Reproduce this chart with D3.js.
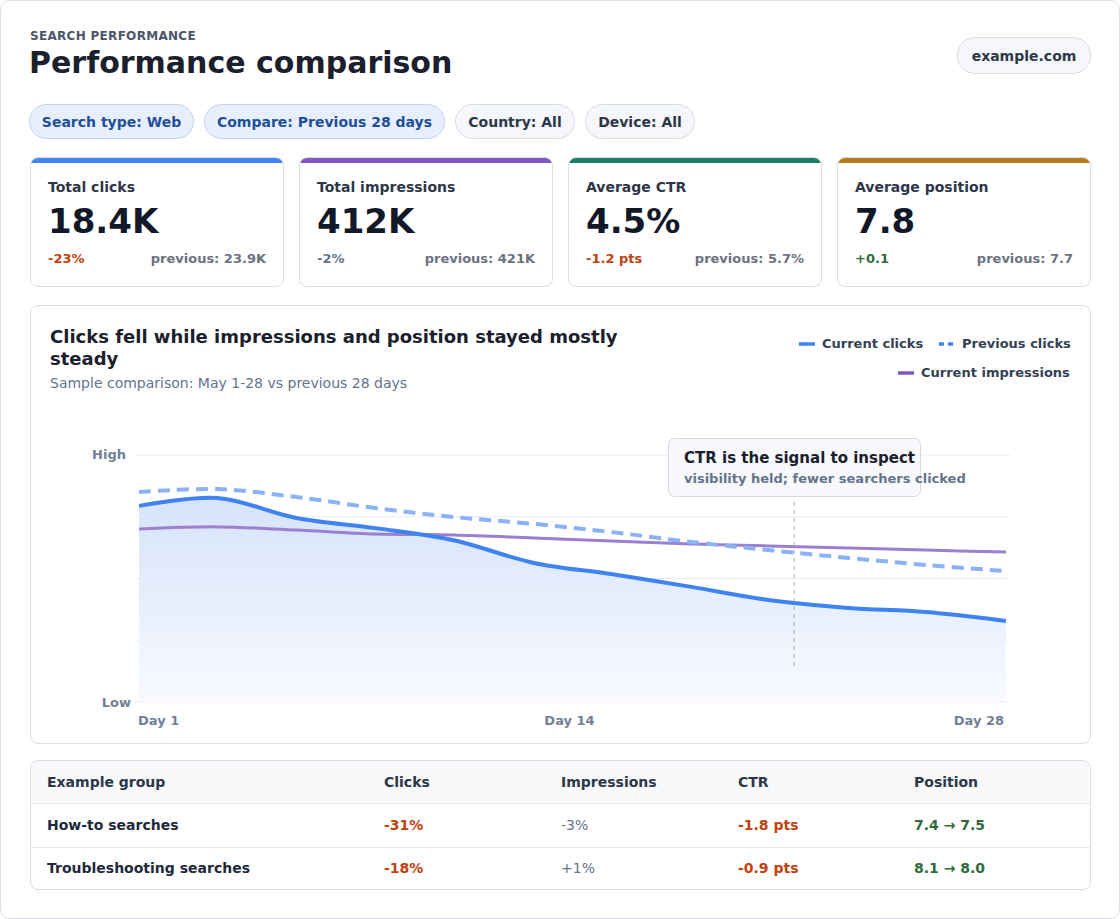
<!DOCTYPE html>
<html><head><meta charset="utf-8">
<script src="https://cdn.jsdelivr.net/npm/d3@7"></script>
<style>
*{box-sizing:border-box}
body{margin:0;width:1120px;height:919px;font-family:"DejaVu Sans",sans-serif;background:#fff;color:#1a202c}
.page{position:absolute;left:0;top:0;width:1120px;height:919px;border:1px solid #d9dee6;border-radius:10px}
.abs{position:absolute}
.pill{position:absolute;height:35px;border-radius:18px;font-size:14px;font-weight:bold;display:flex;align-items:center;justify-content:center;border:1px solid #d7dde6;background:#f5f7fa;color:#2d3748}
.pill.blue{background:#e7effc;border-color:#bfd3f3;color:#1f4f9a}
.card{position:absolute;top:157px;width:254px;height:130px;border:1px solid #d9dee6;border-radius:8px;overflow:hidden}
.card .bar{position:absolute;left:0;top:0;right:0;height:5px}
.card .lab{position:absolute;left:17px;top:21px;font-size:14px;font-weight:bold;color:#2d3748}
.card .val{position:absolute;left:17px;top:43px;font-size:34px;font-weight:bold;color:#111827}
.card .d{position:absolute;left:17px;top:93px;font-size:13px;font-weight:bold}
.card .p{position:absolute;right:17px;top:93px;font-size:13px;font-weight:bold;color:#6b7280}
.red{color:#c2410c}.grn{color:#2f6b3a}.gry{color:#64748b}
</style></head><body>
<div class="page"></div>
<div class="abs" style="left:30px;top:29px;font-size:12px;font-weight:bold;color:#4a5568;letter-spacing:0.3px">SEARCH PERFORMANCE</div>
<div class="abs" style="left:29px;top:45px;font-size:30px;font-weight:bold;color:#1a202c">Performance comparison</div>
<div class="pill" style="left:957px;top:37px;width:134px;height:37px">example.com</div>
<div id="pills"></div>
<div id="cards"></div>
<div class="abs" style="left:30px;top:305px;width:1061px;height:439px;border:1px solid #d9dee6;border-radius:8px"></div>
<div class="abs" style="left:50px;top:326px;font-size:18px;font-weight:bold;line-height:22px;color:#1a202c;width:600px">Clicks fell while impressions and position stayed mostly steady</div>
<div class="abs" style="left:50px;top:375px;font-size:14px;color:#64748b">Sample comparison: May 1-28 vs previous 28 days</div>
<svg id="chart" class="abs" style="left:0;top:0" width="1120" height="919"></svg>
<div id="table" class="abs" style="left:30px;top:760px;width:1061px;height:130px;border:1px solid #d9dee6;border-radius:8px;overflow:hidden"></div>
<script>
const pills=[["Search type: Web",29,165,true],["Compare: Previous 28 days",204,241,true],["Country: All",455,120,false],["Device: All",585,110,false]];
const kpiLabels=["Total clicks","Total impressions","Average CTR","Average position"];
const kpiValues=["18.4K","412K","4.5%","7.8"];
const kpiDeltas=["-23%","-2%","-1.2 pts","+0.1"];
const kpiDeltaCls=["red","gry","red","grn"];
const kpiPrev=["previous: 23.9K","previous: 421K","previous: 5.7%","previous: 7.7"];
const kpiColors=["#4285f4","#7e57c2","#1a7f64","#b7791f"];
const days=[1,3.45,5.9,8.36,10.8,13.3,15.7,18.2,20.6,23.1,25.5,28];
const currentClicks=[79.4,82.6,74.5,70.4,65.5,56.3,51.8,46.6,41.3,38.1,36.4,32.8];
const previousClicks=[85,86.2,83,78.5,74.9,72.1,68.8,64.8,61.5,58.3,55.5,53];
const currentImpr=[70,70.9,69.6,68,67.6,66.4,65.2,64,63.2,62.3,61.5,60.7];
const xTicks=[1,14.5,28];
const xTickLabels=["Day 1","Day 14","Day 28"];
const tableHead=["Example group","Clicks","Impressions","CTR","Position"];
const tableRows=[["How-to searches","-31%","-3%","-1.8 pts","7.4 → 7.5"],["Troubleshooting searches","-18%","+1%","-0.9 pts","8.1 → 8.0"]];
const tableCls=[["","red","gry","red","grn"],["","red","gry","red","grn"]];

d3.select("#pills").selectAll("div").data(pills).join("div")
 .attr("class",d=>"pill"+(d[3]?" blue":"")).style("left",d=>d[1]+"px").style("top","104px").style("width",d=>d[2]+"px").text(d=>d[0]);
const cards=d3.select("#cards").selectAll("div").data(kpiLabels).join("div").attr("class","card").style("left",(d,i)=>(30+i*269)+"px");
cards.append("div").attr("class","bar").style("background",(d,i)=>kpiColors[i]);
cards.append("div").attr("class","lab").text(d=>d);
cards.append("div").attr("class","val").text((d,i)=>kpiValues[i]);
cards.append("div").attr("class",(d,i)=>"d "+kpiDeltaCls[i]).text((d,i)=>kpiDeltas[i]);
cards.append("div").attr("class","p").text((d,i)=>kpiPrev[i]);

const svg=d3.select("#chart");
const x=d3.scaleLinear().domain([1,28]).range([139,1006]);
const y=d3.scaleLinear().domain([0,100]).range([702,455]);
const defs=svg.append("defs");
const g=defs.append("linearGradient").attr("id","fill").attr("x1",0).attr("x2",0).attr("y1",0).attr("y2",1);
g.append("stop").attr("offset","0%").attr("stop-color","#d6e3fa");
g.append("stop").attr("offset","100%").attr("stop-color","#f8faff");
svg.selectAll(".grid").data([0,25,50,75,100]).join("line").attr("x1",135).attr("x2",1010).attr("y1",d=>y(d)).attr("y2",d=>y(d)).attr("stroke","#e8ecf1").attr("stroke-width",1.2);
svg.append("text").attr("x",126).attr("y",y(100)+4).attr("text-anchor","end").attr("font-size",13).attr("font-weight","bold").attr("fill","#718096").text("High");
svg.append("text").attr("x",131).attr("y",y(0)+5).attr("text-anchor","end").attr("font-size",13).attr("font-weight","bold").attr("fill","#718096").text("Low");
svg.selectAll(".xt").data(xTicks).join("text").attr("x",x).attr("y",725).attr("text-anchor",(d,i)=>["start","middle","end"][i]).attr("dx",(d,i)=>[-1,-3,-2][i]).attr("font-size",13).attr("font-weight","bold").attr("fill","#718096").text((d,i)=>xTickLabels[i]);
const curve=d3.curveCatmullRom;
const idx=d3.range(days.length);
svg.append("path").datum(idx).attr("fill","url(#fill)").attr("d",d3.area().x(i=>x(days[i])).y0(y(0)).y1(i=>y(currentClicks[i])).curve(curve));
const line=arr=>d3.line().x(i=>x(days[i])).y(i=>y(arr[i])).curve(curve);
svg.append("path").datum(idx).attr("fill","none").attr("stroke","#9b7fd1").attr("stroke-width",3).attr("d",line(currentImpr));
svg.append("path").datum(idx).attr("fill","none").attr("stroke","#8ab2f5").attr("stroke-width",4).attr("stroke-dasharray","12 7").attr("d",line(previousClicks));
svg.append("path").datum(idx).attr("fill","none").attr("stroke","#3f83f0").attr("stroke-width",4).attr("d",line(currentClicks));
svg.append("line").attr("x1",x(21.4)).attr("x2",x(21.4)).attr("y1",502).attr("y2",668).attr("stroke","#a0a8b4").attr("stroke-dasharray","4 4");
svg.append("rect").attr("x",668.5).attr("y",438.5).attr("width",252).attr("height",58).attr("rx",6).attr("fill","#f7f9fc").attr("stroke","#d3dae3");
svg.append("text").attr("x",684).attr("y",463).attr("font-size",15).attr("font-weight","bold").attr("fill","#1a202c").text("CTR is the signal to inspect");
svg.append("text").attr("x",684).attr("y",483).attr("font-size",13).attr("font-weight","bold").attr("fill","#64748b").text("visibility held; fewer searchers clicked");
const leg=[["Current clicks",799,343,"#3f83f0",null],["Previous clicks",939,343,"#3f83f0","5 4"],["Current impressions",898,372,"#7e57c2",null]];
leg.forEach(l=>{svg.append("line").attr("x1",l[1]).attr("x2",l[1]+16).attr("y1",l[2]+1).attr("y2",l[2]+1).attr("stroke",l[3]).attr("stroke-width",3.5).attr("stroke-dasharray",l[4]);
 svg.append("text").attr("x",l[1]+23).attr("y",l[2]+5).attr("font-size",13).attr("font-weight","bold").attr("fill","#334155").text(l[0]);});

const colX=[16,353,530,707,883];
const t=d3.select("#table");
t.append("div").style("position","absolute").style("left","0").style("top","0").style("width","100%").style("height","43px").style("background","#f7f9fb").style("border-bottom","1px solid #e3e7ed");
t.selectAll(".h").data(tableHead).join("div").style("position","absolute").style("left",(d,i)=>colX[i]+"px").style("top","13px").style("font-size","14px").style("font-weight","bold").style("color","#2d3748").text(d=>d);
tableRows.forEach((r,ri)=>{
 if(ri>0)t.append("div").style("position","absolute").style("left","0").style("top",(43+43*ri)+"px").style("width","100%").style("height","1px").style("background","#e3e7ed");
 t.selectAll(".r"+ri).data(r).join("div").attr("class",(d,i)=>tableCls[ri][i]).style("position","absolute").style("left",(d,i)=>colX[i]+"px").style("top",(56+43*ri)+"px").style("font-size","14px").style("font-weight",(d,i)=>tableCls[ri][i]==="gry"?"normal":"bold").style("color",(d,i)=>i===0?"#1e293b":null).text(d=>d);
});
</script></body></html>
